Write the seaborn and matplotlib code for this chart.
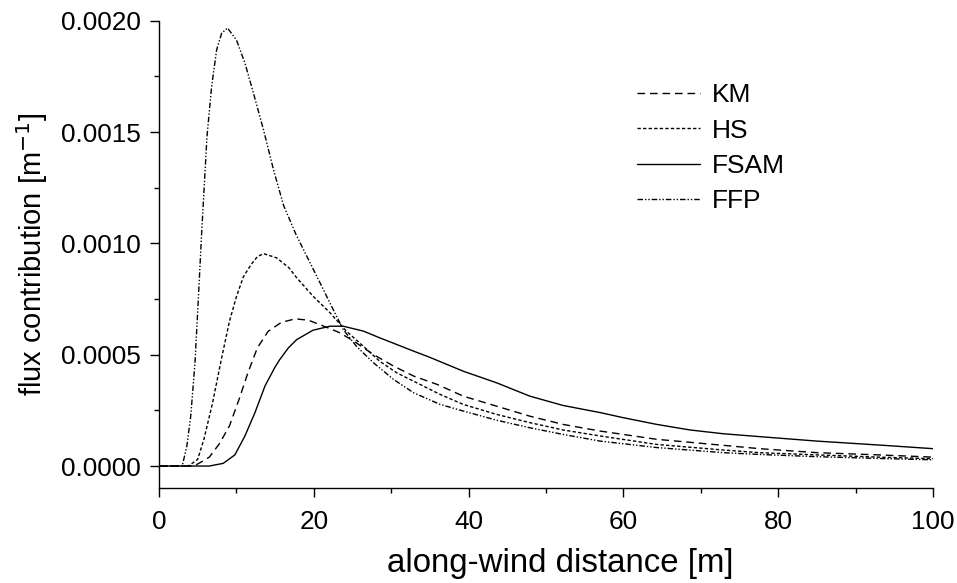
import numpy as np
import pandas as pd
import matplotlib
matplotlib.use("Agg")
import matplotlib.pyplot as plt
import seaborn as sns
from matplotlib.ticker import MultipleLocator

# ---- data ----
km_x = [0, 4.5, 5.3, 6.5, 7.8, 9.1, 10.35, 11.5, 12.7, 14.1, 15.8, 17.6, 19.3, 21.3, 23.4, 25.5,
        27.7, 30.3, 32.9, 35.9, 39.3, 43.6, 47.9, 52.2, 57.0, 64.3, 72.9, 77.6, 85, 93, 100]
km_y = [0, 0, 0.000015, 0.00004, 0.0001, 0.00018, 0.0003, 0.00042, 0.00053, 0.000605, 0.000645,
        0.000661, 0.000655, 0.000628, 0.000598, 0.000553, 0.000501, 0.000449, 0.000404, 0.000367,
        0.000314, 0.000269, 0.000224, 0.000187, 0.000157, 0.00012, 0.000093, 0.000078, 0.00006,
        0.00005, 0.00004]

hs_x = [0, 3.8, 5.0, 5.8, 6.9, 8.0, 9.1, 10.0, 10.9, 11.9, 12.7, 13.5, 15.2, 16.8, 17.8, 19.9, 22.1,
        24.2, 26.4, 28.5, 30.7, 33.7, 36.3, 39.3, 43.6, 47.9, 52.2, 57.0, 64.3, 72.9, 77.6, 85, 93, 100]
hs_y = [0, 0, 0.00003, 0.00012, 0.00028, 0.00047, 0.00065, 0.00076, 0.00085, 0.000905, 0.00094,
        0.000954, 0.000935, 0.00089, 0.000845, 0.000763, 0.000688, 0.000606, 0.000538, 0.000471,
        0.000419, 0.000367, 0.000322, 0.000277, 0.000232, 0.000195, 0.000162, 0.000135, 0.000097,
        0.000072, 0.00006, 0.00005, 0.00004, 0.000033]

fsam_x = [0, 6.5, 8.3, 9.8, 11.1, 12.4, 13.7, 15.0, 15.6, 16.7, 17.8, 19.9, 22.1, 23.8, 26.4, 28.5,
          30.7, 32.9, 35.0, 39.3, 43.6, 47.9, 52.2, 57.0, 60.0, 64.3, 68.6, 72.9, 77.6, 85, 93.6, 100]
fsam_y = [0, 0, 0.000012, 0.00005, 0.000135, 0.00024, 0.00036, 0.000445, 0.000478, 0.00053,
          0.000568, 0.00061, 0.000628, 0.000628, 0.000606, 0.000576, 0.000546, 0.000516, 0.000488,
          0.000426, 0.000374, 0.000314, 0.000272, 0.00024, 0.000217, 0.000187, 0.000162, 0.000145,
          0.000132, 0.000112, 0.000093, 0.000078]

ffp_x = [0, 3.0, 3.6, 4.1, 4.65, 5.1, 5.5, 6.2, 6.8, 7.45, 8.1, 8.85, 10.0, 11.1, 12.2, 13.5, 14.8,
         16.1, 17.7, 19.1, 20.8, 22.5, 23.8, 25.5, 27.7, 30.3, 32.9, 36.3, 39.3, 43.6, 47.9, 52.2,
         57.0, 64.3, 72.9, 77.6, 85, 93, 100]
ffp_y = [0, 0, 0.00009, 0.000224, 0.000464, 0.000763, 0.00104, 0.00148, 0.001705, 0.00187,
         0.001944, 0.001967, 0.001914, 0.00181, 0.001675, 0.00151, 0.00133, 0.00117, 0.00104,
         0.000942, 0.000823, 0.000703, 0.000613, 0.000538, 0.000464, 0.000389, 0.000329, 0.000277,
         0.000247, 0.000206, 0.000172, 0.000142, 0.000112, 0.000083, 0.00006, 0.000052, 0.000042,
         0.000034, 0.000028]

models = ["KM", "HS", "FSAM", "FFP"]
series = {"KM": (km_x, km_y), "HS": (hs_x, hs_y), "FSAM": (fsam_x, fsam_y), "FFP": (ffp_x, ffp_y)}

frames = []
for m in models:
    xs, ys = series[m]
    frames.append(pd.DataFrame({"x": xs, "y": ys, "model": m}))
df = pd.concat(frames, ignore_index=True)

sns.set_style("ticks")
plt.rcParams["font.family"] = ["Liberation Sans", "DejaVu Sans"]
plt.rcParams["text.color"] = "black"
plt.rcParams["axes.labelcolor"] = "black"
plt.rcParams["xtick.color"] = "black"
plt.rcParams["ytick.color"] = "black"

fig = plt.figure(figsize=(9.57, 5.83), dpi=100)
ax = fig.add_axes([159 / 957, 1 - 488.3 / 583, (933 - 159) / 957, (488.3 - 20.7) / 583])

dashes = {"KM": (5.5, 3.5), "HS": (2.4, 1.6), "FSAM": "", "FFP": (4.0, 1.4, 1.0, 1.4, 1.0, 1.4)}
sns.lineplot(data=df, x="x", y="y", style="model", style_order=models, dashes=dashes,
             color="black", linewidth=1.0, ax=ax, sort=False, estimator=None)

ax.set_xlim(0, 100)
ax.set_ylim(-0.0001, 0.0020)
ax.xaxis.set_major_locator(MultipleLocator(20))
ax.xaxis.set_minor_locator(MultipleLocator(10))
ax.set_yticks([0.0, 0.0005, 0.0010, 0.0015, 0.0020])
ax.set_yticklabels(["0.0000", "0.0005", "0.0010", "0.0015", "0.0020"])
ax.yaxis.set_minor_locator(MultipleLocator(0.00025))
ax.tick_params(which="major", direction="out", length=6.5, width=1.0, labelsize=18.8,
               colors="black")
ax.tick_params(axis="y", which="major", pad=6.5)
ax.tick_params(axis="x", which="major", pad=9)
ax.tick_params(which="minor", direction="out", length=3.5, width=1.0, colors="black")
for s in ["top", "right"]:
    ax.spines[s].set_visible(False)
for s in ["left", "bottom"]:
    ax.spines[s].set_linewidth(1.0)
    ax.spines[s].set_color("black")

ax.set_xlabel("along-wind distance [m]", fontsize=23.8, color="black")
ax.xaxis.set_label_coords(0.519, -0.127)
ax.set_ylabel("flux contribution [m$^{-1}$]", fontsize=21, labelpad=8, color="black")

handles, labels = ax.get_legend_handles_labels()
leg = ax.legend(handles, labels, loc="upper left", bbox_to_anchor=(0.6176, 0.866),
                frameon=False, fontsize=19, handlelength=2.39, handletextpad=0.45,
                labelspacing=0.43, borderpad=0, borderaxespad=0, labelcolor="black")
for h in leg.legend_handles:
    h.set_color("black")

fig.savefig("out.png", dpi=100)
